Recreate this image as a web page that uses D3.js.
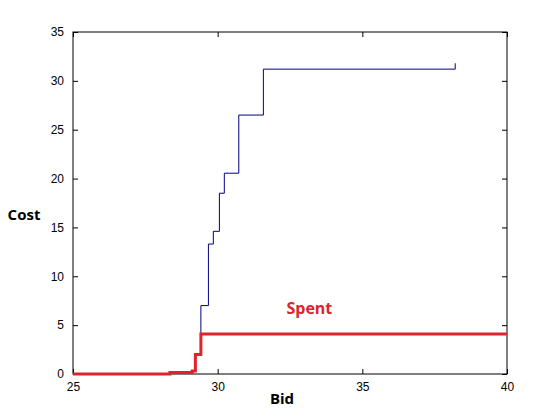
<!DOCTYPE html>
<html>
<head>
<meta charset="utf-8">
<script src="https://d3js.org/d3.v7.min.js"></script>
<style>
  body { margin: 0; background: #fff; }
  svg { display: block; }
  .tick text { font-family: "Liberation Sans", Arial, sans-serif; font-size: 12px; fill: #000; }
  .lbl { font-family: "Open Sans", "Noto Sans", sans-serif; font-weight: bold; }
</style>
</head>
<body>
<div class="wrapper"></div>
<script>
// total cost curve (blue)
var costBid = [25, 28.35, 29.12, 29.23, 29.42, 29.68, 29.85, 30.06, 30.23, 30.73, 31.58, 38.21];
var costVal = [0, 0.15, 0.3, 2.0, 7.0, 13.3, 14.6, 18.5, 20.55, 26.5, 31.2, 31.8];
// spent curve (red)
var spentBid = [25, 28.35, 29.12, 29.23, 29.42, 40];
var spentVal = [0, 0.15, 0.3, 2.0, 4.1, 4.1];
var xTicks = [25, 30, 35, 40];
var yTicks = [0, 5, 10, 15, 20, 25, 30, 35];

var width = 560, height = 420;
var margin = {top: 32, right: 53, bottom: 46, left: 73};
var w = width - margin.left - margin.right,
  h = height - margin.top - margin.bottom;

var svg = d3.select(".wrapper").append("svg")
  .attr("width", width)
  .attr("height", height);
var g = svg.append("g").attr("transform", "translate(" + margin.left + "," + margin.top + ")");

var x = d3.scaleLinear().domain([25, 40]).range([0, w]);
var y = d3.scaleLinear().domain([0, 35]).range([h, 0]);

var line = d3.line()
  .x(function(d) { return x(d[0]); })
  .y(function(d) { return y(d[1]); })
  .curve(d3.curveStepAfter);

// box
g.append("rect")
  .attr("x", 0).attr("y", 0)
  .attr("width", w).attr("height", h)
  .attr("fill", "none")
  .attr("stroke", "#000")
  .attr("stroke-width", 1);

// axes with inward ticks on all sides
function styleAxis(sel) {
  sel.select(".domain").remove();
  sel.selectAll(".tick line").attr("stroke", "#000");
}
g.append("g")
  .attr("transform", "translate(0," + h + ")")
  .call(d3.axisBottom(x).tickValues(xTicks).tickSizeInner(-5).tickPadding(8).tickFormat(d3.format("d")))
  .call(styleAxis);
g.append("g")
  .call(d3.axisTop(x).tickValues(xTicks).tickSizeInner(-5).tickFormat(""))
  .call(styleAxis);
g.append("g")
  .call(d3.axisLeft(y).tickValues(yTicks).tickSizeInner(-5).tickPadding(9).tickFormat(d3.format("d")))
  .call(styleAxis);
g.append("g")
  .attr("transform", "translate(" + w + ",0)")
  .call(d3.axisRight(y).tickValues(yTicks).tickSizeInner(-5).tickFormat(""))
  .call(styleAxis);

g.append("path")
  .datum(costBid.map(function(b, i) { return [b, costVal[i]]; }))
  .attr("fill", "none")
  .attr("stroke", "#00007f")
  .attr("stroke-width", 1)
  .attr("d", line);

g.append("path")
  .datum(spentBid.map(function(b, i) { return [b, spentVal[i]]; }))
  .attr("fill", "none")
  .attr("stroke", "#e0222c")
  .attr("stroke-width", 3)
  .attr("d", line);

g.append("text")
  .attr("class", "lbl")
  .attr("x", x(33.17))
  .attr("y", y(6.1))
  .attr("text-anchor", "middle")
  .attr("font-size", 16)
  .attr("fill", "#e0222c")
  .text("Spent");

svg.append("text")
  .attr("class", "lbl")
  .attr("x", 24)
  .attr("y", 220)
  .attr("text-anchor", "middle")
  .attr("font-size", 15)
  .attr("fill", "#000")
  .text("Cost");

svg.append("text")
  .attr("class", "lbl")
  .attr("x", 282)
  .attr("y", 404)
  .attr("text-anchor", "middle")
  .attr("font-size", 15)
  .attr("fill", "#000")
  .text("Bid");
</script>
</body>
</html>
